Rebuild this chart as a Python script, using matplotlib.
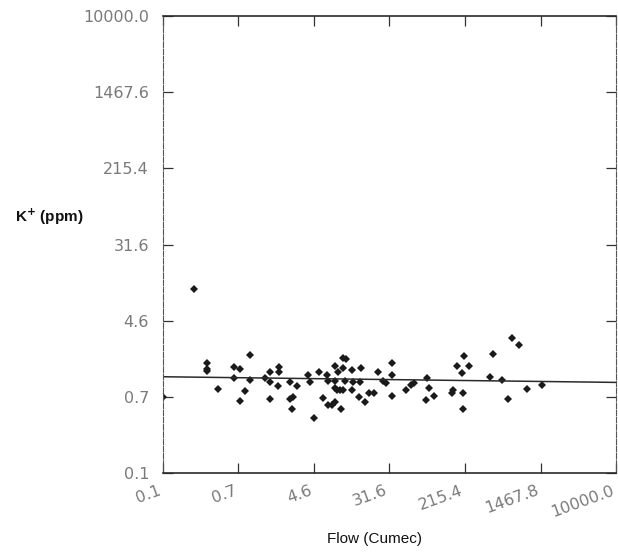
import numpy as np
import matplotlib
matplotlib.use("Agg")
import matplotlib.pyplot as plt
from matplotlib.ticker import FixedLocator, FixedFormatter, NullLocator

# ── Data ─────────────────────────────────────────────────────────
flow = [
    0.10, 0.22, 0.305, 0.305, 0.305, 0.40, 0.60, 0.60, 0.70, 0.70,
    0.80, 0.91, 0.91, 1.33, 1.51, 1.51, 1.51, 1.89, 1.89, 1.85,
    2.50, 2.50, 2.70, 2.63, 2.99, 3.95, 4.16, 4.60, 5.22, 5.78,
    6.40, 6.56, 6.56, 7.26, 7.84, 7.84, 7.84, 7.84, 8.25, 8.46,
    8.90, 9.12, 9.60, 9.60, 9.60, 10.6, 10.1, 12.1, 12.1, 12.4,
    14.4, 14.8, 15.2, 16.8, 19.0, 21.1, 23.9, 26.5, 28.6, 33.3,
    34.1, 33.3, 48.7, 55.2, 59.6, 80.7, 82.8, 87.3, 99.0, 156,
    160, 177, 240, 201, 212, 207, 207, 409, 442, 555,
    647, 716, 855, 1047, 1531,
]
potassium = [
    0.68, 10.4, 1.61, 1.38, 1.31, 0.83, 1.45, 1.10, 1.38, 0.62,
    0.79, 1.97, 1.05, 1.10, 1.28, 1.00, 0.65, 1.45, 1.28, 0.90,
    1.00, 0.65, 0.68, 0.50, 0.90, 1.19, 1.00, 0.40, 1.28, 0.66,
    1.19, 1.02, 0.56, 0.56, 1.49, 1.02, 0.86, 0.60, 0.81, 1.28,
    0.81, 0.50, 1.82, 1.42, 0.81, 1.78, 1.02, 1.35, 0.81, 1.00,
    0.68, 1.00, 1.42, 0.60, 0.75, 0.75, 1.28, 1.02, 0.97, 1.61,
    1.19, 0.70, 0.81, 0.92, 0.97, 0.63, 1.10, 0.86, 0.70, 0.75,
    0.81, 1.49, 1.49, 1.25, 1.92, 0.75, 0.50, 1.13, 2.02, 1.05,
    0.65, 3.02, 2.53, 0.83, 0.92,
]

# fitted regression line (log-log), end points
fit_flow = [0.1, 10000.0]
fit_k = [1.13, 0.98]

tick_values = [0.1, 0.681, 4.64, 31.6, 215.4, 1467.8, 10000.0]
x_tick_labels = ["0.1", "0.7", "4.6", "31.6", "215.4", "1467.8", "10000.0"]
y_tick_labels = ["0.1", "0.7", "4.6", "31.6", "215.4", "1467.6", "10000.0"]

# ── Figure ───────────────────────────────────────────────────────
fig = plt.figure(figsize=(6.18, 5.57), dpi=100)
ax = fig.add_axes([163 / 618, 84 / 557, 453 / 618, 457 / 557])

ax.plot(flow, potassium, linestyle="none", marker="D", markersize=4.3,
        color="#1a1a1a", markeredgewidth=0)
ax.plot(fit_flow, fit_k, color="#2a2a2a", linewidth=1.1)

ax.set_xscale("log")
ax.set_yscale("log")
ax.set_xlim(0.1, 10000)
ax.set_ylim(0.1, 10000)

for axis, labels in ((ax.xaxis, x_tick_labels), (ax.yaxis, y_tick_labels)):
    axis.set_major_locator(FixedLocator(tick_values))
    axis.set_major_formatter(FixedFormatter(labels))
    axis.set_minor_locator(NullLocator())

ax.tick_params(axis="both", which="major", direction="in", length=7,
               width=0.9, color="#333333", top=True, right=True,
               labelsize=11.5, labelcolor="#7a7a7a")
ax.tick_params(axis="y", pad=10)
ax.tick_params(axis="x", pad=7)
for lbl in ax.get_xticklabels():
    lbl.set_rotation(20)
    lbl.set_ha("right")

for side in ("top", "bottom"):
    ax.spines[side].set_color("#2a2a2a")
    ax.spines[side].set_linewidth(1.2)
for side in ("left", "right"):
    ax.spines[side].set_color("#555555")
    ax.spines[side].set_linewidth(0.8)
    ax.spines[side].set_linestyle((0, (5, 1.5)))

ax.set_xlabel("Flow (Cumec)", fontsize=11, family="Liberation Sans",
              color="#111111")
ax.xaxis.set_label_coords(0.467, -0.13)

fig.text(15 / 618, 1 - 217 / 557, r"K$^{\mathbf{+}}$ (ppm)", fontsize=11,
         family="Liberation Sans", fontweight="bold", color="#111111",
         ha="left", va="center")

fig.savefig("out.png", dpi=100)
